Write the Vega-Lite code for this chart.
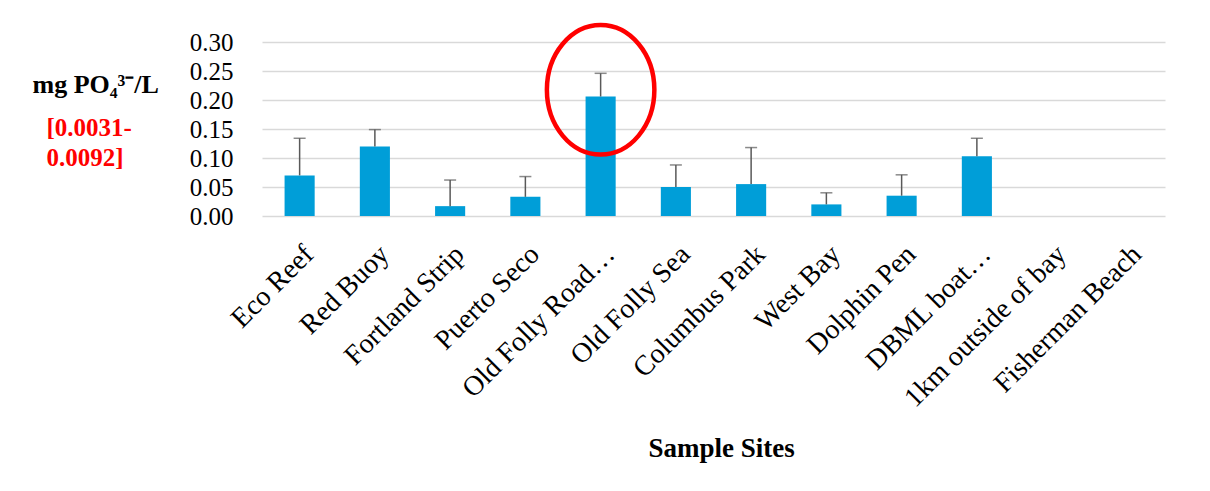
{
  "$schema": "https://vega.github.io/schema/vega-lite/v6.json",
  "autosize": "none",
  "width": 903,
  "height": 174,
  "padding": {"left": 262, "top": 42, "right": 45, "bottom": 275},
  "background": "white",
  "config": {
    "view": {"stroke": null},
    "font": "Liberation Serif"
  },
  "datasets": {
    "sites": [
      {"site": "Eco Reef", "mean": 0.070, "upper": 0.134},
      {"site": "Red Buoy", "mean": 0.120, "upper": 0.149},
      {"site": "Fortland Strip", "mean": 0.017, "upper": 0.062},
      {"site": "Puerto Seco", "mean": 0.033, "upper": 0.068},
      {"site": "Old Folly Road…", "mean": 0.206, "upper": 0.246},
      {"site": "Old Folly Sea", "mean": 0.050, "upper": 0.088},
      {"site": "Columbus Park", "mean": 0.055, "upper": 0.118},
      {"site": "West Bay", "mean": 0.020, "upper": 0.040},
      {"site": "Dolphin Pen", "mean": 0.035, "upper": 0.071},
      {"site": "DBML boat…", "mean": 0.103, "upper": 0.134},
      {"site": "1km outside of bay", "mean": null, "upper": null},
      {"site": "Fisherman Beach", "mean": null, "upper": null}
    ],
    "highlight": [
      {"site": "Old Folly Road…", "level": 0.2176}
    ]
  },
  "data": {"name": "sites"},
  "encoding": {
    "x": {
      "field": "site",
      "type": "nominal",
      "sort": null,
      "scale": {
        "domain": ["Eco Reef", "Red Buoy", "Fortland Strip", "Puerto Seco", "Old Folly Road…", "Old Folly Sea", "Columbus Park", "West Bay", "Dolphin Pen", "DBML boat…", "1km outside of bay", "Fisherman Beach"],
        "paddingInner": 0.6,
        "paddingOuter": 0.3
      },
      "axis": {
        "title": "Sample Sites",
        "titleFont": "Liberation Serif",
        "titleFontSize": 27,
        "titleFontWeight": "bold",
        "titleColor": "#000000",
        "titleX": 459,
        "titleY": 240,
        "titleAlign": "center",
        "titleBaseline": "alphabetic",
        "labelAngle": -45,
        "labelFont": "Liberation Serif",
        "labelFontSize": 28,
        "labelColor": "#000000",
        "labelLimit": 400,
        "labelPadding": 24,
        "domain": false,
        "ticks": false,
        "grid": false
      }
    }
  },
  "layer": [
    {
      "mark": {"type": "bar", "color": "#009ed8"},
      "encoding": {
        "y": {
          "field": "mean",
          "type": "quantitative",
          "scale": {"domain": [0, 0.3], "nice": false, "zero": true},
          "axis": {
            "values": [0, 0.05, 0.1, 0.15, 0.2, 0.25, 0.3],
            "format": ".2f",
            "labelFont": "Liberation Serif",
            "labelFontSize": 25,
            "labelColor": "#000000",
            "labelPadding": 29,
            "domain": false,
            "ticks": false,
            "grid": true,
            "gridColor": "#d9d9d9",
            "gridWidth": 1.5,
            "title": "mg PO₄³⁻/L",
            "titleFont": "Liberation Serif",
            "titleFontSize": 26,
            "titleFontWeight": "bold",
            "titleColor": "#000000",
            "titleAngle": 0,
            "titleAlign": "left",
            "titleBaseline": "alphabetic",
            "titleX": -230,
            "titleY": 50
          }
        }
      }
    },
    {
      "mark": {"type": "rule", "color": "#595959", "strokeWidth": 1.5},
      "encoding": {
        "y": {
          "field": "mean",
          "type": "quantitative",
          "axis": {
            "orient": "left",
            "labels": false,
            "domain": false,
            "ticks": false,
            "grid": false,
            "title": ["[0.0031-", "0.0092]"],
            "titleFont": "Liberation Serif",
            "titleFontSize": 25,
            "titleFontWeight": "bold",
            "titleColor": "#ff0000",
            "titleAngle": 0,
            "titleAlign": "left",
            "titleBaseline": "alphabetic",
            "titleLineHeight": 30,
            "titleX": -216,
            "titleY": 93
          }
        },
        "y2": {"field": "upper"}
      }
    },
    {
      "mark": {"type": "tick", "color": "#595959", "thickness": 1.5, "size": 12},
      "encoding": {
        "y": {"field": "upper", "type": "quantitative", "axis": null}
      }
    },
    {
      "data": {"name": "highlight"},
      "mark": {
        "type": "point",
        "shape": "M-0.83,0A0.83,1 0 1,1 0.83,0A0.83,1 0 1,1 -0.83,0Z",
        "size": 16770,
        "filled": false,
        "stroke": "#ff0000",
        "strokeWidth": 4.5,
        "opacity": 1
      },
      "encoding": {
        "y": {"field": "level", "type": "quantitative", "axis": null}
      }
    }
  ],
  "resolve": {"axis": {"y": "independent"}}
}
